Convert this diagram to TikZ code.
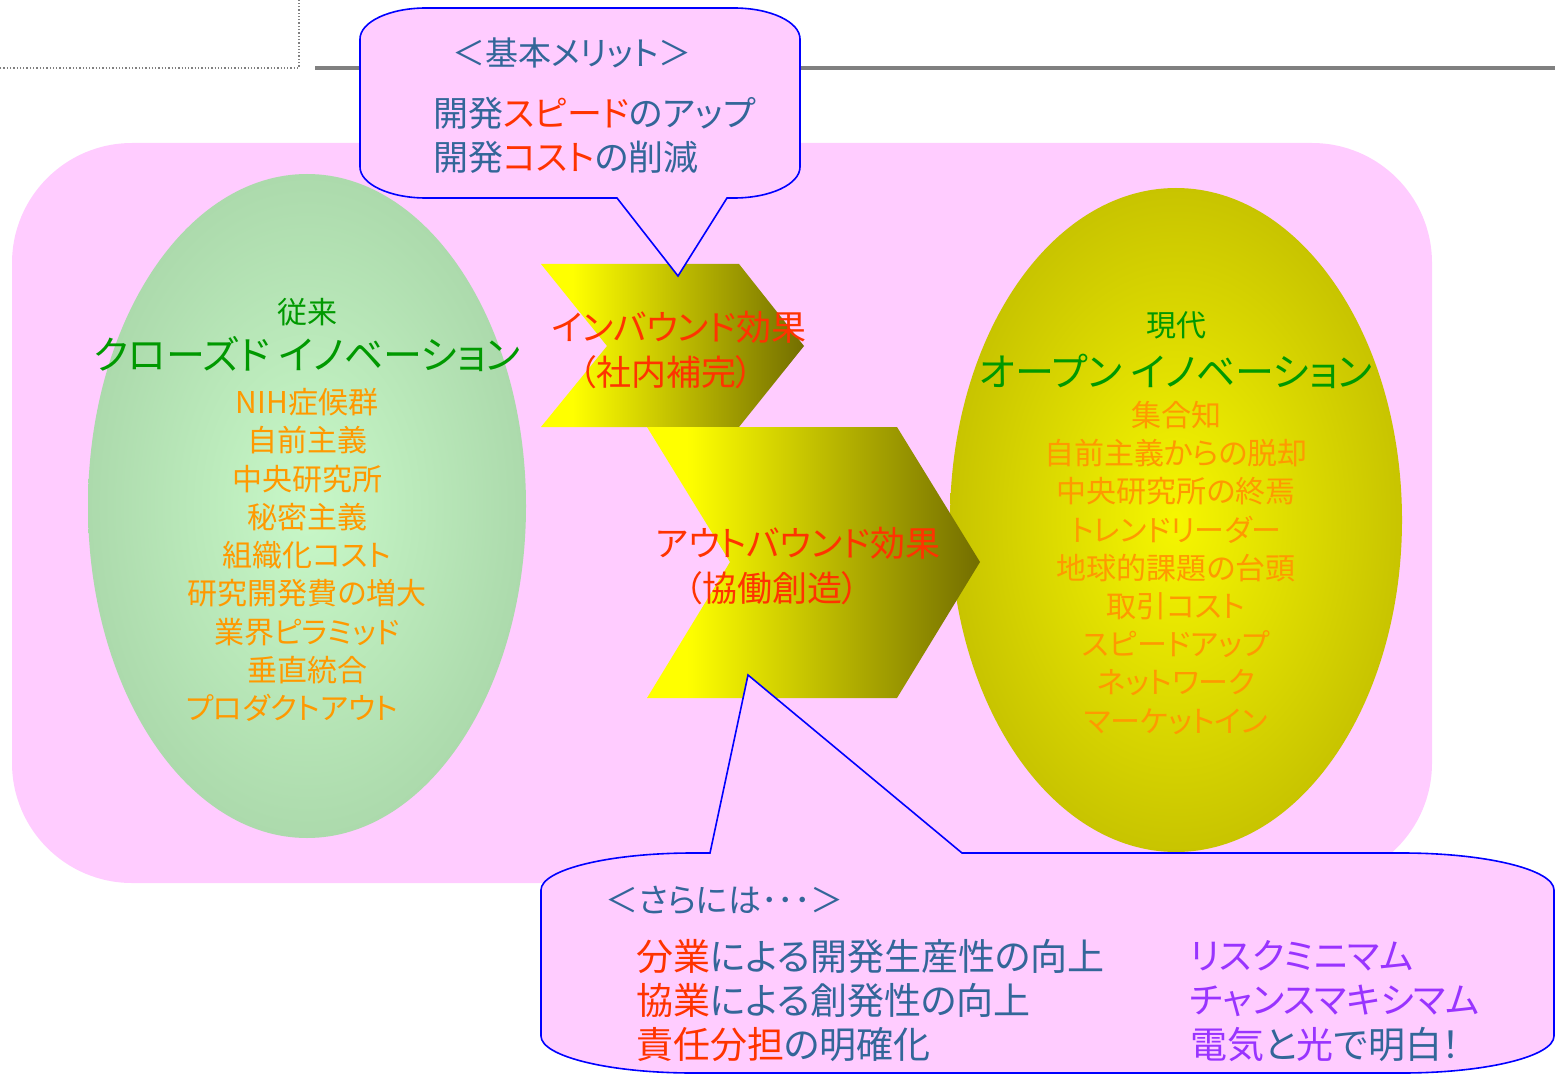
\documentclass[tikz,border=0pt]{standalone}
\usepackage{fontspec}
\setmainfont{Noto Sans CJK JP}[RawFeature=+palt]
\definecolor{pinkbg}{RGB}{255,204,255}
\definecolor{steel}{RGB}{51,102,153}
\definecolor{redt}{RGB}{255,51,0}
\definecolor{purp}{RGB}{153,51,255}
\definecolor{grn}{RGB}{0,153,0}
\definecolor{orng}{RGB}{255,153,0}
\definecolor{chevdark}{RGB}{115,110,0}
\definecolor{chevlight}{RGB}{255,255,0}
\definecolor{gin}{RGB}{200,248,200}
\definecolor{gout}{RGB}{172,218,172}
\definecolor{yin}{RGB}{246,246,0}
\definecolor{yout}{RGB}{200,196,0}
\definecolor{linegray}{RGB}{128,128,128}
\pgfdeclarehorizontalshading{chevshade}{100bp}{color(0bp)=(chevlight); color(31bp)=(chevlight); color(75bp)=(chevdark); color(100bp)=(chevdark)}
\begin{document}
\begin{tikzpicture}[x=1pt,y=-1pt,
  tx/.style={inner sep=0pt, anchor=base},
  f30/.style={font=\fontsize{30}{36}\selectfont},
  f33/.style={font=\fontsize{33}{40}\selectfont},
  f35/.style={font=\fontsize{35}{42}\selectfont},
  f36/.style={font=\fontsize{36}{43}\selectfont},
  f37/.style={font=\fontsize{37}{44}\selectfont},
  f39/.style={font=\fontsize{39}{47}\selectfont},
  calloutline/.style={draw=blue, line width=1.6pt, fill=pinkbg, line join=miter},
  chev/.style={shading=chevshade},
  orangeitem/.style={tx, f30, text=orng},
  greentitle/.style={tx, text=grn}]
\useasboundingbox (0,0) rectangle (1558,1075);
% header lines
\draw[linegray, line width=1.3pt, dotted] (0,68) -- (299,68) -- (299,0);
\draw[linegray, line width=4pt] (315,68) -- (1555,68);
% pink background
\fill[pinkbg, rounded corners=120pt] (12,143) rectangle (1432,883);
% ellipses
\shade[inner color=gin, outer color=gout] (307,506) ellipse [x radius=219pt, y radius=332pt];
\shade[inner color=yin, outer color=yout] (1176,520) ellipse [x radius=226pt, y radius=332pt];
% chevrons
\shade[chev] (541,264) -- (739,264) -- (804,346) -- (739,427) -- (541,427) -- (607,346) -- cycle;
\shade[chev] (647,427) -- (897,427) -- (980,562) -- (897,698) -- (647,698) -- (730,562) -- cycle;
% left ellipse text
\node[greentitle, f30] (lhead) at (307,323.4) {従来};
\node[greentitle, f39] (ltitle) at (307,369.8) {クローズド イノベーション};
\foreach \t [count=\i from 0] in {NIH症候群,自前主義,中央研究所,秘密主義,組織化コスト,研究開発費の増大,業界ピラミッド,垂直統合}
  \node[orangeitem] (L\i) at (307,413.4+38.3*\i) {\t};
\node[orangeitem] (L8) at (292,719.8) {プロダクトアウト};
% right ellipse text
\node[greentitle, f30] (rhead) at (1176,336.4) {現代};
\node[greentitle, f39] (rtitle) at (1176,386.8) {オープン イノベーション};
\foreach \t [count=\i from 0] in {集合知,自前主義からの脱却,中央研究所の終焉,トレンドリーダー,地球的課題の台頭,取引コスト,スピードアップ,ネットワーク,マーケットイン}
  \node[orangeitem] (R\i) at (1176,426.4+38.2*\i) {\t};
% chevron texts
\node[tx, f35, text=redt] (in1) at (679,340.3) {インバウンド効果};
\node[tx, f35, text=redt] (in2) at (666,385.3) {（社内補完）};
\node[tx, f35, text=redt] (out1) at (798,556.3) {アウトバウンド効果};
\node[tx, f35, text=redt] (out2) at (772,601.3) {（協働創造）};
% top callout
\draw[calloutline] (360,39) .. controls (360,21.9) and (389.5,8) .. (426,8) -- (734,8)
  .. controls (770.5,8) and (800,21.9) .. (800,39) -- (800,167)
  .. controls (800,184.1) and (770.5,198) .. (734,198) -- (727,198) -- (678,276) -- (617,198) -- (426,198)
  .. controls (389.5,198) and (360,184.1) .. (360,167) -- cycle;
\node[tx, f33, text=steel] (merit) at (572,65.5) {＜基本メリット＞};
\node[tx, f35, text=steel, anchor=base west] (m1) at (433,126.3) {開発\textcolor{redt}{スピード}のアップ};
\node[tx, f35, text=steel, anchor=base west] (m2) at (433,170.3) {開発\textcolor{redt}{コスト}の削減};
% bottom callout
\draw[calloutline] (541,890) .. controls (541,869.6) and (609,853) .. (693,853) -- (710,853) -- (748,675) -- (962,853) -- (1402,853)
  .. controls (1486,853) and (1554,869.6) .. (1554,890) -- (1554,1036)
  .. controls (1554,1056.4) and (1486,1073) .. (1402,1073) -- (693,1073)
  .. controls (609,1073) and (541,1056.4) .. (541,1036) -- cycle;
\node[tx, f33, text=steel, anchor=base west] (more) at (605,912.5) {＜さらには･･･＞};
\node[tx, f37, text=steel, anchor=base west] (b1) at (636,970) {\textcolor{redt}{分業}による開発生産性の向上};
\node[tx, f37, text=steel, anchor=base west] (b2) at (636,1014) {\textcolor{redt}{協業}による創発性の向上};
\node[tx, f37, text=steel, anchor=base west] (b3) at (636,1058) {\textcolor{redt}{責任分担}の明確化};
\node[tx, f36, text=purp, anchor=base west] (c1) at (1190,969.7) {リスクミニマム};
\node[tx, f36, text=purp, anchor=base west] (c2) at (1190,1013.7) {チャンスマキシマム};
\node[tx, f37, text=steel, anchor=base west] (c3) at (1190,1058) {\textcolor{purp}{電気}と\textcolor{purp}{光}で明白！};
\end{tikzpicture}
\end{document}
